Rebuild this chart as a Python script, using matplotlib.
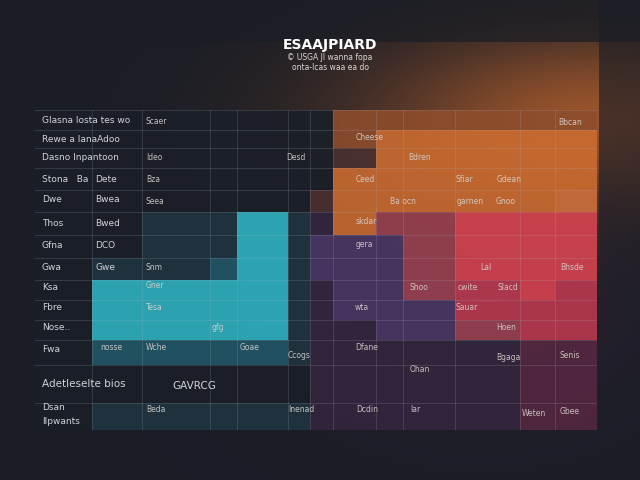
import numpy as np
import matplotlib
matplotlib.use("Agg")
import matplotlib.pyplot as plt
from matplotlib.colors import ListedColormap, BoundaryNorm

# ---------------- data ----------------
title = "ESAAJPIARD"
subtitle = ["\u00a9 USGA Jl wanna fopa", "onta-lcas waa ea do"]

# category codes per cell (rows top->bottom, 13 columns)
cells = [
    [0, 0, 0, 0, 0, 0, 0, 9, 9, 9, 9, 9, 9],
    [0, 0, 0, 0, 0, 0, 0, 9, 8, 8, 8, 8, 8],
    [0, 0, 0, 0, 0, 0, 0, 11, 8, 8, 8, 8, 8],
    [0, 0, 0, 0, 0, 0, 0, 8, 8, 8, 8, 8, 8],
    [0, 0, 0, 0, 0, 0, 11, 8, 8, 8, 8, 8, 10],
    [0, 0, 1, 1, 3, 1, 4, 8, 12, 12, 7, 7, 7],
    [0, 0, 1, 1, 3, 1, 5, 5, 5, 12, 7, 7, 7],
    [0, 1, 1, 2, 3, 1, 5, 5, 5, 12, 7, 7, 7],
    [0, 3, 3, 3, 3, 1, 4, 5, 5, 12, 6, 7, 6],
    [0, 3, 3, 3, 3, 1, 4, 5, 5, 5, 6, 6, 6],
    [0, 3, 3, 3, 3, 1, 4, 4, 5, 5, 12, 6, 6],
    [0, 2, 2, 2, 2, 1, 4, 4, 4, 4, 4, 13, 13],
    [0, 0, 0, 0, 0, 0, 4, 4, 4, 4, 4, 13, 13],
    [0, 1, 1, 1, 1, 1, 4, 4, 4, 4, 4, 13, 13],
]
palette = ["#1b1f28", "#1f3441", "#22596a", "#2fb6c6", "#33263f", "#4b3767",
           "#bd3a50", "#da4450", "#cd6c30", "#8e4d2c", "#d0713a", "#4b3030",
           "#9c4150", "#562840"]

row_labels = [
    (120, 42, "Glasna losta tes wo"), (139, 42, "Rewe a lanaAdoo"),
    (158, 42, "Dasno Inpantoon"), (179, 42, "Stona   Ba"), (179, 95, "Dete"),
    (200, 42, "Dwe"), (200, 95, "Bwea"), (223, 42, "Thos"), (223, 95, "Bwed"),
    (245, 42, "Gfna"), (245, 95, "DCO"), (268, 42, "Gwa"), (268, 95, "Gwe"),
    (287, 42, "Ksa"), (307, 42, "Fbre"), (327, 42, "Nose.."), (349, 42, "Fwa"),
    (408, 42, "Dsan"), (421, 42, "Ilpwants"),
]
big_labels = [(384, 42, "Adetleselte bios"), (386, 172, "GAVRCG")]

cell_texts = [
    (121, 146, "Scaer"), (137, 356, "Cheese"), (122, 558, "Bbcan"),
    (157, 146, "Ideo"), (157, 286, "Desd"), (157, 408, "Bdren"),
    (179, 146, "Bza"), (180, 356, "Ceed"), (180, 456, "Sfiar"), (180, 497, "Gdean"),
    (201, 146, "Seea"), (201, 390, "Ba ocn"), (201, 457, "garnen"), (201, 496, "Gnoo"),
    (222, 356, "skdar"), (244, 356, "gera"), (267, 146, "Snm"), (268, 480, "Lal"),
    (268, 560, "Bhsde"), (286, 146, "Gner"), (287, 410, "Shoo"), (287, 458, "cwite"),
    (287, 497, "Slacd"), (307, 146, "Tesa"), (308, 355, "wta"), (308, 456, "Sauar"),
    (327, 496, "Hoen"), (328, 212, "gfg"), (347, 100, "nosse"), (348, 146, "Wche"),
    (348, 240, "Goae"), (348, 355, "Dfane"), (356, 288, "Ccogs"), (358, 496, "Bgaga"),
    (356, 560, "Senis"), (369, 410, "Ohan"), (410, 146, "Beda"), (410, 288, "Inenad"),
    (410, 356, "Dcdin"), (410, 410, "lar"), (413, 522, "Weten"), (412, 560, "Gbee"),
]

# ---------------- layout ----------------
col_edges = [35, 92, 142, 210, 237, 288, 310, 333, 376, 403, 455, 520, 555, 597]
row_edges = [110, 130, 148, 168, 190, 212, 235, 258, 280, 300, 320, 340, 365, 403, 430]
W, H = 640, 480

fig = plt.figure(figsize=(6.4, 4.8), dpi=100)

# background gradient
bg = fig.add_axes([0, 0, 1, 1])
yy, xx = np.mgrid[0:H, 0:W]
base = np.array([0.105, 0.115, 0.145])
glow = np.array([0.60, 0.33, 0.17])
g = np.exp(-(((xx - 600) / 230.0) ** 2 + ((yy - 120) / 90.0) ** 2))
g = g * np.where(yy < 42, 0.3, 1.0)
g = g * np.where(xx > 598, 0.35, 1.0)
img = base[None, None, :] * (1 - g[..., None]) + glow[None, None, :] * g[..., None]
g2 = np.exp(-(((xx - 480) / 160.0) ** 2 + ((yy - 300) / 110.0) ** 2)) * 0.25
img = img * (1 - g2[..., None]) + np.array([0.35, 0.18, 0.3])[None, None, :] * g2[..., None]
bg.imshow(np.clip(img, 0, 1), extent=[0, W, H, 0], aspect="auto")
bg.set_xlim(0, W)
bg.set_ylim(H, 0)
bg.axis("off")

ax = fig.add_axes([35 / W, (H - 430) / H, (597 - 35) / W, 320 / H])
ax.set_facecolor("none")
cmap = ListedColormap(palette)
norm = BoundaryNorm(np.arange(-0.5, len(palette) + 0.5), cmap.N)
ax.pcolormesh(col_edges, row_edges, np.array(cells), cmap=cmap, norm=norm,
              alpha=0.88, shading="flat")
for x in col_edges[1:-1]:
    ax.axvline(x, color="#aab4c0", lw=0.6, alpha=0.22)
for y in row_edges:
    ax.axhline(y, color="#aab4c0", lw=0.6, alpha=0.22)
ax.set_xlim(35, 597)
ax.set_ylim(430, 110)
ax.axis("off")

for y, x, s in row_labels:
    ax.text(x, y, s, color="#d0d4d8", fontsize=6.5, va="center", ha="left")
for y, x, s in big_labels:
    ax.text(x, y, s, color="#d0d4d8", fontsize=7.5, va="center", ha="left")
for y, x, s in cell_texts:
    ax.text(x, y, s, color="#d6d0cc", fontsize=5.5, va="center", ha="left", alpha=0.9)

fig.text(330 / W, 1 - 45 / H, title, color="white", fontsize=10, fontweight="bold",
         ha="center", va="center")
fig.text(330 / W, 1 - 58 / H, subtitle[0], color="#d8d8d8", fontsize=5.5, ha="center", va="center")
fig.text(330 / W, 1 - 67 / H, subtitle[1], color="#d8d8d8", fontsize=5.5, ha="center", va="center")

fig.savefig("out.png", dpi=100)
